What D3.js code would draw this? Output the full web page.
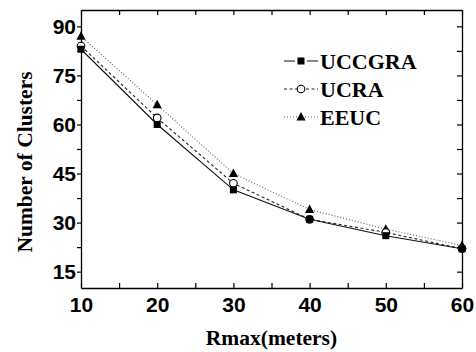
<!DOCTYPE html>
<html><head><meta charset="utf-8">
<script src="https://cdn.jsdelivr.net/npm/d3@7"></script>
<style>body{margin:0;background:#fff}svg{display:block}</style>
</head><body>
<script>
const xValues = [10, 20, 30, 40, 50, 60];
const uccgra = [83, 60, 40, 31, 26, 22];
const ucra = [84, 62, 42, 31, 27, 22];
const eeuc = [87, 66, 45, 34, 28, 23];
const seriesNames = ["UCCGRA", "UCRA", "EEUC"];
const xTickValues = [10, 20, 30, 40, 50, 60];
const yTickValues = [15, 30, 45, 60, 75, 90];

const W = 476, H = 352;
const m = {l: 81, r: 14, t: 10, b: 64};
const svg = d3.select("body").append("svg").attr("width", W).attr("height", H);
const x = d3.scaleLinear().domain([10, 60]).range([m.l, W - m.r]);
const y = d3.scaleLinear().domain([10, 95]).range([H - m.b, m.t]);

const minorX = d3.range(10, 60.01, 5);
const minorY = d3.range(15, 90.01, 7.5);
const tickFont = "'Liberation Sans', Arial, sans-serif";
const serif = "'Liberation Serif', 'Times New Roman', serif";

// axes
const gB = svg.append("g").attr("transform", `translate(0,${H - m.b})`)
  .call(d3.axisBottom(x).tickValues(minorX).tickSizeInner(-5).tickSizeOuter(0)
    .tickFormat(d => xTickValues.includes(d) ? d : ""));
const gT = svg.append("g").attr("transform", `translate(0,${m.t})`)
  .call(d3.axisTop(x).tickValues(minorX).tickSizeInner(-5).tickSizeOuter(0).tickFormat(""));
const gL = svg.append("g").attr("transform", `translate(${m.l},0)`)
  .call(d3.axisLeft(y).tickValues(minorY).tickSizeInner(4).tickSizeOuter(0)
    .tickFormat(d => yTickValues.includes(d) ? d : ""));
const gR = svg.append("g").attr("transform", `translate(${W - m.r},0)`)
  .call(d3.axisRight(y).tickValues(minorY).tickSizeInner(-5).tickSizeOuter(0).tickFormat(""));
[gB, gT, gL, gR].forEach(g => {
  g.select(".domain").attr("stroke", "#000").attr("stroke-width", 1.3);
  g.selectAll(".tick line").attr("stroke", "#000").attr("stroke-width", 1.2);
  g.selectAll("text").attr("font-family", tickFont).attr("font-weight", "bold")
    .attr("font-size", 21).attr("fill", "#000");
});
gB.selectAll("text").attr("dy", "0.75em").attr("y", 8);
gL.selectAll("text").attr("x", -5);

// axis titles
svg.append("text").attr("x", (m.l + W - m.r) / 2).attr("y", 345)
  .attr("text-anchor", "middle").attr("font-family", serif).attr("font-weight", "bold")
  .attr("font-size", 21.5).attr("fill", "#000").text("Rmax(meters)");
svg.append("text").attr("transform", `translate(32,${162}) rotate(-90)`)
  .attr("text-anchor", "middle").attr("font-family", serif).attr("font-weight", "bold")
  .attr("font-size", 21.5).attr("fill", "#000").text("Number of Clusters");

const series = [
  {name: seriesNames[0], vals: uccgra, dash: null, color: "#111", marker: "square"},
  {name: seriesNames[1], vals: ucra, dash: "3,2.5", color: "#222", marker: "circle"},
  {name: seriesNames[2], vals: eeuc, dash: "1,2", color: "#666", marker: "triangle"}
];
const line = d3.line().x((d, i) => x(xValues[i])).y(d => y(d));

function drawMarker(g, type, cx, cy) {
  if (type === "square") {
    g.append("rect").attr("x", cx - 3.5).attr("y", cy - 3.5).attr("width", 7).attr("height", 7).attr("fill", "#000");
  } else if (type === "circle") {
    g.append("circle").attr("cx", cx).attr("cy", cy).attr("r", 3.8).attr("fill", "#fff").attr("stroke", "#000").attr("stroke-width", 1.1);
  } else {
    g.append("path").attr("d", `M${cx},${cy - 5}L${cx + 4.6},${cy + 3.5}L${cx - 4.6},${cy + 3.5}Z`).attr("fill", "#000");
  }
}

series.slice().reverse().forEach(s => {
  svg.append("path").datum(s.vals).attr("d", line).attr("fill", "none")
    .attr("stroke", s.color).attr("stroke-width", 1.1)
    .attr("stroke-dasharray", s.dash);
});
series.slice().reverse().forEach(s => {
  const g = svg.append("g");
  s.vals.forEach((v, i) => drawMarker(g, s.marker, x(xValues[i]), y(v)));
});

// legend
const legY = [61, 89, 117];
series.forEach((s, i) => {
  const g = svg.append("g");
  const ly = legY[i];
  g.append("line").attr("x1", 284).attr("x2", 318).attr("y1", ly).attr("y2", ly)
    .attr("stroke", s.color).attr("stroke-width", 1.1).attr("stroke-dasharray", s.dash);
  if (s.marker === "square") {
    g.append("line").attr("x1", 295).attr("x2", 307).attr("y1", ly).attr("y2", ly).attr("stroke", "#fff").attr("stroke-width", 2);
  }
  drawMarker(g, s.marker, 301, ly);
  g.append("text").attr("x", 320).attr("y", ly + 7.5).attr("font-family", serif)
    .attr("font-weight", "bold").attr("font-size", 22).attr("fill", "#000").text(s.name);
});
</script>
</body></html>
